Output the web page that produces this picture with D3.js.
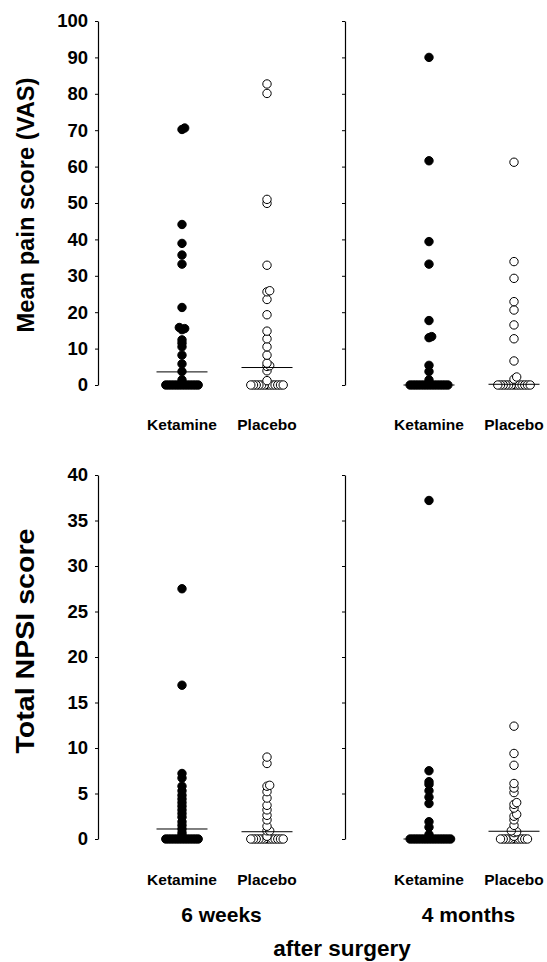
<!DOCTYPE html>
<html>
<head>
<meta charset="utf-8">
<script src="https://cdn.jsdelivr.net/npm/d3@7"></script>
<style>
  body { margin: 0; background: #fff; }
  svg { display: block; }
  text { font-family: Arial, "Liberation Sans", sans-serif; font-weight: bold; fill: #000; }
</style>
</head>
<body>
<svg id="chart" width="547" height="962"></svg>
<script>
const times = ["6 weeks", "4 months"];
const groups = ["Ketamine", "Placebo"];
const vasTicks = [0, 10, 20, 30, 40, 50, 60, 70, 80, 90, 100];
const npsiTicks = [0, 5, 10, 15, 20, 25, 30, 35, 40];

// mean pain score (VAS)
const vasKetamine6w = [70.2, 70.6, 44.1, 38.9, 35.7, 33.2, 21.3, 15.8, 15.5, 15.2, 12.4, 11.5, 10.5, 8.2, 5.8, 3.7, 1.4,
  0, 0, 0, 0, 0, 0, 0, 0, 0, 0, 0, 0, 0];
const vasPlacebo6w = [82.7, 80.1, 51.0, 49.9, 32.9, 25.9, 25.6, 23.5, 19.3, 14.8, 12.7, 10.5, 8.2, 6.0, 5.3, 5.1, 3.9, 1.2,
  0, 0, 0, 0, 0, 0, 0, 0, 0, 0, 0, 0, 0];
const vasKetamine4m = [90, 61.6, 39.4, 33.2, 17.7, 13.3, 13.0, 5.4, 3.7, 1.4,
  0, 0, 0, 0, 0, 0, 0, 0, 0, 0, 0, 0, 0, 0, 0];
const vasPlacebo4m = [61.2, 33.9, 29.3, 22.9, 20.6, 16.5, 12.7, 6.6, 2.2, 1.6,
  0, 0, 0, 0, 0, 0, 0, 0, 0, 0, 0, 0, 0];
const vasMedians = [[3.6, 4.8], [0, 0.2]];

// total NPSI score
const npsiKetamine6w = [27.5, 16.9, 7.2, 6.7, 5.8, 5.3, 4.8, 4.4, 4.0, 3.6, 3.2, 2.8, 2.4, 1.9, 1.5, 1.1, 0.7, 0.4,
  0, 0, 0, 0, 0, 0, 0, 0, 0, 0, 0, 0, 0];
const npsiPlacebo6w = [9.0, 8.3, 5.9, 5.8, 5.2, 4.5, 3.7, 3.2, 2.6, 2.1, 1.4, 0.9, 0.9, 0.3,
  0, 0, 0, 0, 0, 0, 0, 0, 0, 0, 0, 0, 0];
const npsiKetamine4m = [37.2, 7.5, 6.3, 6.0, 5.3, 4.6, 3.9, 1.9, 1.3, 0.5,
  0, 0, 0, 0, 0, 0, 0, 0, 0, 0, 0, 0, 0, 0, 0, 0];
const npsiPlacebo4m = [12.4, 9.4, 8.1, 6.1, 5.6, 5.1, 4.0, 3.8, 3.4, 2.7, 2.5, 2.1, 1.5, 0.9, 0.8, 0.7, 0.3,
  0, 0, 0, 0, 0, 0, 0, 0, 0, 0, 0];
const npsiMedians = [[1.1, 0.8], [0, 0.85]];

const panels = [
  { title: "Mean pain score (VAS)", ticks: vasTicks, top: 21, bottom: 385, titleY: 205, titleLen: 255, titleSize: 23,
    labelY: 430, series: [[vasKetamine6w, vasPlacebo6w], [vasKetamine4m, vasPlacebo4m]], medians: vasMedians },
  { title: "Total NPSI score", ticks: npsiTicks, top: 475, bottom: 839, titleY: 641, titleLen: 225, titleSize: 25,
    labelY: 885, series: [[npsiKetamine6w, npsiPlacebo6w], [npsiKetamine4m, npsiPlacebo4m]], medians: npsiMedians }
];

const svg = d3.select("#chart");
const x0 = d3.scaleBand().domain(times).range([98, 592]);
const x1 = d3.scalePoint().domain(groups).range([84, 169]);

// simple beeswarm: push overlapping dots sideways
function swarm(vals, y) {
  const step = 2.7;
  const placed = [];
  vals.slice().sort((a, b) => a - b).forEach(v => {
    const py = y(v);
    for (let k = 0; k < 80; k++) {
      const dx = k === 0 ? 0 : (k % 2 ? 1 : -1) * Math.ceil(k / 2) * step;
      if (placed.every(p => Math.hypot(p.dx - dx, p.y - py) >= step - 0.01)) {
        placed.push({ v, y: py, dx });
        break;
      }
    }
  });
  return placed;
}

panels.forEach(panel => {
  const y = d3.scaleLinear()
    .domain([0, d3.max(panel.ticks)])
    .range([panel.bottom, panel.top]);

  svg.append("text")
    .attr("transform", `translate(34,${panel.titleY}) rotate(-90)`)
    .attr("text-anchor", "middle")
    .attr("font-size", panel.titleSize)
    .attr("textLength", panel.titleLen)
    .attr("lengthAdjust", "spacingAndGlyphs")
    .text(panel.title);

  times.forEach((t, ti) => {
    const g = svg.append("g").attr("transform", `translate(${x0(t)},0)`);

    const axis = d3.axisLeft(y)
      .tickValues(panel.ticks)
      .tickSize(3)
      .tickSizeOuter(0)
      .tickPadding(7);
    if (ti > 0) axis.tickFormat("");

    const ax = g.append("g").call(axis);
    ax.select(".domain").attr("stroke", "#000").attr("stroke-width", 1.2);
    ax.selectAll(".tick line").attr("stroke", "#000");
    ax.selectAll(".tick text")
      .attr("font-size", 18.5)
      .attr("fill", "#000");

    groups.forEach((grp, gi) => {
      const cx = x1(grp);
      const pts = swarm(panel.series[ti][gi], y);

      g.append("g")
        .selectAll("circle")
        .data(pts)
        .join("circle")
        .attr("cx", d => cx + d.dx)
        .attr("cy", d => d.y)
        .attr("r", 4.2)
        .attr("fill", gi === 0 ? "#000" : "#fff")
        .attr("stroke", "#000")
        .attr("stroke-width", 1);

      const med = panel.medians[ti][gi];
      g.append("line")
        .attr("x1", cx - 25.5)
        .attr("x2", cx + 25.5)
        .attr("y1", y(med))
        .attr("y2", y(med))
        .attr("stroke", "#000")
        .attr("stroke-width", 1);

      g.append("text")
        .attr("x", cx)
        .attr("y", panel.labelY)
        .attr("text-anchor", "middle")
        .attr("font-size", 15.5)
        .text(grp);
    });
  });
});

// time point labels under the lower panel
times.forEach(t => {
  svg.append("text")
    .attr("x", x0(t) + (x1("Ketamine") + x1("Placebo")) / 2 - 3)
    .attr("y", 922)
    .attr("text-anchor", "middle")
    .attr("font-size", 21)
    .text(t);
});

svg.append("text")
  .attr("x", 342)
  .attr("y", 956)
  .attr("text-anchor", "middle")
  .attr("font-size", 22.5)
  .text("after surgery");
</script>
</body>
</html>
